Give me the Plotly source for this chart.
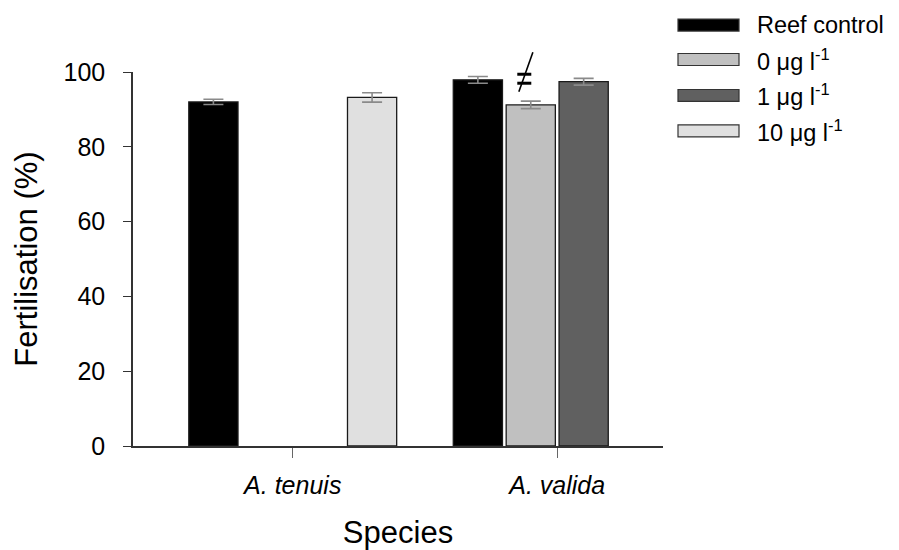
import plotly.graph_objects as go

species = ["A. tenuis", "A. valida"]
series_names = ["Reef control", "0 μg l<sup>-1</sup>", "1 μg l<sup>-1</sup>", "10 μg l<sup>-1</sup>"]
reef_control = [92.0, 97.9]
reef_control_err = [0.7, 0.9]
conc_0 = [None, 91.2]
conc_0_err = [0, 1.0]
conc_1 = [None, 97.4]
conc_1_err = [0, 0.9]
conc_10 = [93.2, None]
conc_10_err = [1.25, 0]
colors = ["#000000", "#c0c0c0", "#606060", "#e0e0e0"]
y_ticks = [0, 20, 40, 60, 80, 100]

values = [reef_control, conc_0, conc_1, conc_10]
errors = [reef_control_err, conc_0_err, conc_1_err, conc_10_err]

FONT = "Liberation Sans, Arial, sans-serif"

fig = go.Figure()
for name, vals, errs, col in zip(series_names, values, errors, colors):
    fig.add_trace(go.Bar(
        x=species, y=vals, name=name,
        marker=dict(color=col, line=dict(color="#1a1a1a", width=1.3)),
        error_y=dict(type="data", array=errs, visible=True, color="#8a8a8a",
                     thickness=1.6, width=10),
        showlegend=False, cliponaxis=False,
    ))

# page body adds an 8px offset; compensate so plot area sits at screen px 133..663 / 72..446.5
OFF = 8
W, H = 899 - OFF, 550 - OFF
L, R, T, B = 133 - OFF, 236, 72 - OFF, 103.5
pw, ph = W - L - R, H - T - B
def px_x(px):
    return (px - 133) / pw
def px_y(py):
    return (446.5 - py) / ph

shapes = []
annotations = []
row_centers = [25, 59.5, 95.5, 131]
for name, col, cy in zip(series_names, colors, row_centers):
    shapes.append(dict(type="rect", xref="paper", yref="paper",
                       x0=px_x(678), x1=px_x(739), y0=px_y(cy + 6), y1=px_y(cy - 6),
                       fillcolor=col, line=dict(color="#333333", width=1.2)))
    annotations.append(dict(xref="paper", yref="paper", x=px_x(755), y=px_y(cy),
                            xanchor="left", yanchor="middle", showarrow=False,
                            text=name, font=dict(family=FONT, size=23.5, color="#000000")))

# "not equal" marker over the A. valida 0 µg/l bar (y in paper units = value/100)
shapes.append(dict(type="line", xref="x", yref="paper", x0=0.849, x1=0.902, y0=0.994, y1=0.994,
                   line=dict(color="#000000", width=3)))
shapes.append(dict(type="line", xref="x", yref="paper", x0=0.849, x1=0.902, y0=0.970, y1=0.970,
                   line=dict(color="#000000", width=3)))
shapes.append(dict(type="line", xref="x", yref="paper", x0=0.855, x1=0.908, y0=0.947, y1=1.053,
                   line=dict(color="#000000", width=1.6)))

fig.update_layout(
    width=W, height=H,
    margin=dict(l=L, r=R, t=T, b=B, pad=0, autoexpand=False),
    paper_bgcolor="white", plot_bgcolor="white",
    barmode="group", bargap=0.2, bargroupgap=0.07,
    font=dict(family=FONT, color="#000000"),
    shapes=shapes, annotations=annotations,
    xaxis=dict(
        type="category", range=[-0.604, 1.40],
        showline=True, linecolor="#333333", linewidth=1.5,
        ticks="outside", ticklen=10, tickcolor="#666666", tickwidth=1.2,
        ticklabelstandoff=6,
        tickfont=dict(family=FONT, size=25, style="italic", color="#000000"),
        title=dict(text="Species", font=dict(family=FONT, size=31), standoff=26),
        showgrid=False, zeroline=False, automargin=False,
    ),
    yaxis=dict(
        range=[0, 100], tickvals=y_ticks,
        showline=True, linecolor="#333333", linewidth=1.5,
        ticks="outside", ticklen=8, tickcolor="#333333", tickwidth=1.2,
        ticklabelstandoff=13,
        tickfont=dict(family=FONT, size=25, color="#000000"),
        title=dict(text="Fertilisation (%)", font=dict(family=FONT, size=31), standoff=17),
        showgrid=False, zeroline=False, automargin=False,
    ),
)

fig.write_html("out.html")
